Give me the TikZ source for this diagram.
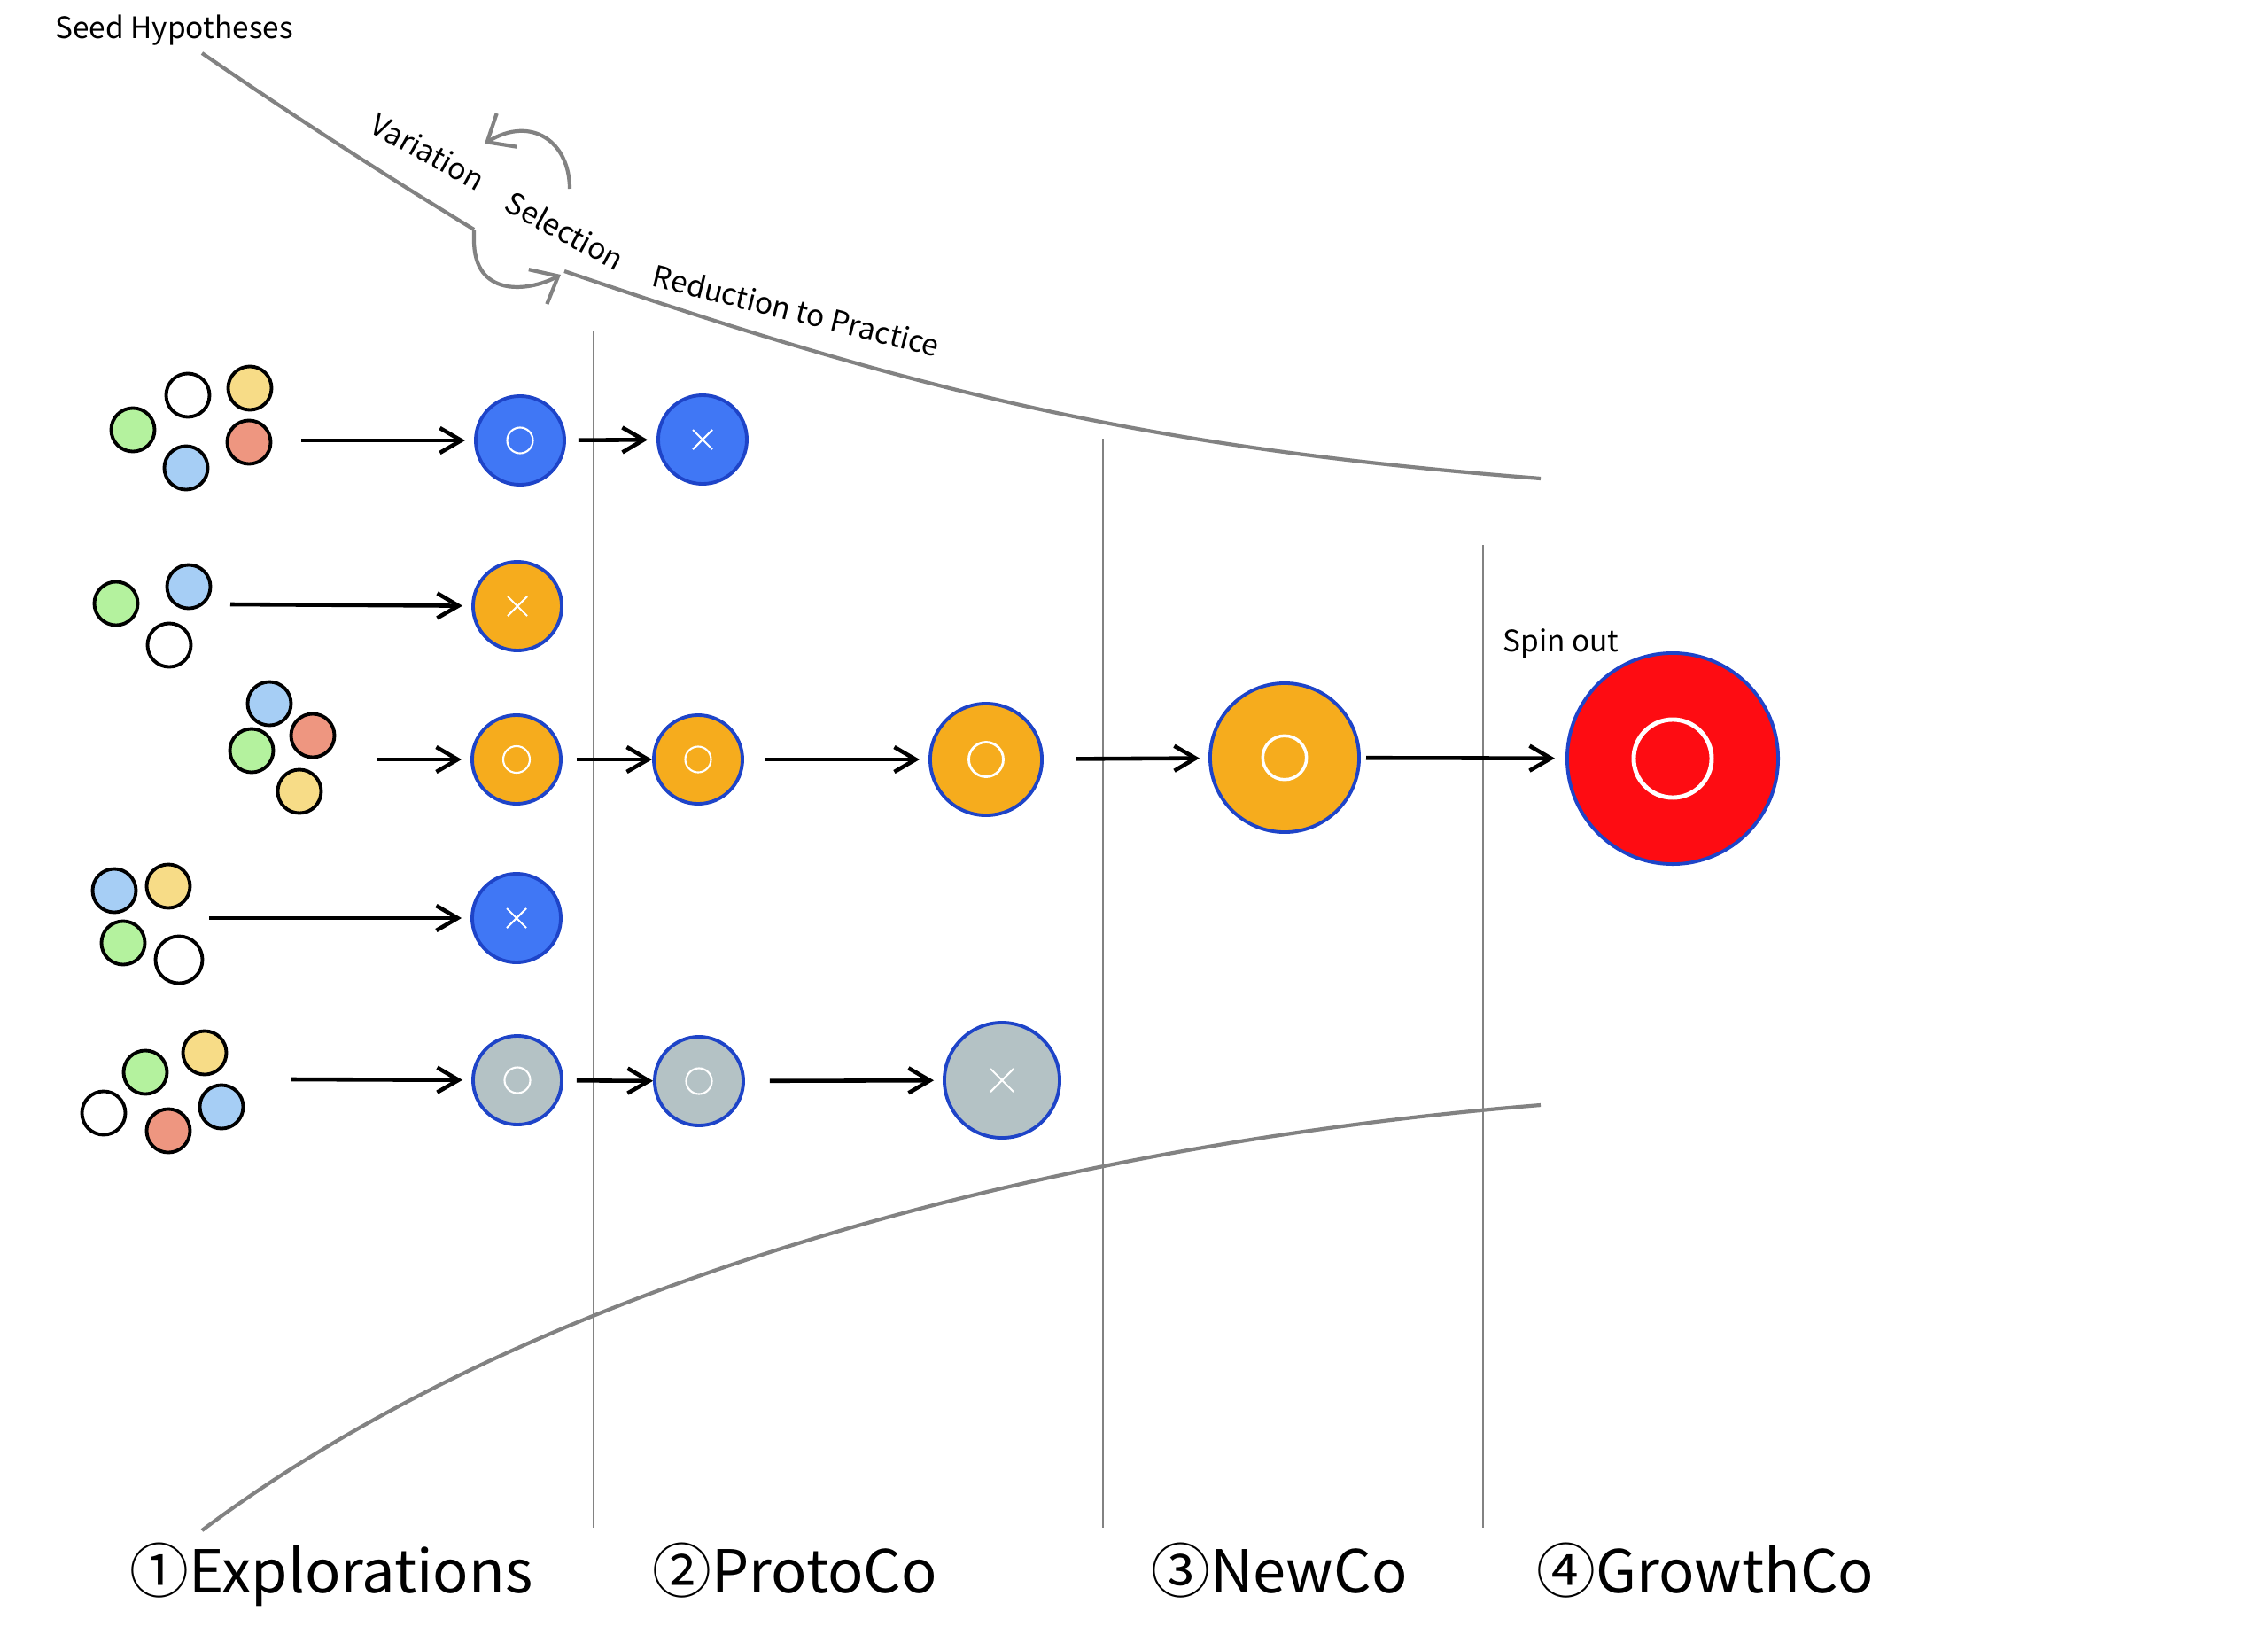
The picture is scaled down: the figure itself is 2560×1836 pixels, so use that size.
\documentclass[tikz,border=0pt]{standalone}
\usepackage{fontspec}
\setmainfont{Noto Sans CJK JP}
\usetikzlibrary{arrows.meta}

\definecolor{ventblue}{RGB}{64,119,245}
\definecolor{rimblue}{RGB}{30,68,200}
\definecolor{ventorange}{RGB}{246,172,29}
\definecolor{ventgray}{RGB}{180,194,197}
\definecolor{ventred}{RGB}{254,12,18}
\definecolor{seedgreen}{RGB}{180,242,158}
\definecolor{seedyellow}{RGB}{247,220,135}
\definecolor{seedred}{RGB}{238,150,128}
\definecolor{seedblue}{RGB}{166,206,245}
\definecolor{linegray}{RGB}{130,130,130}

\begin{document}
\begin{tikzpicture}[
  x=0.01cm, y=-0.01cm,
  seed/.style={circle, draw=black, line width=1.1pt, minimum size=4.9mm,
    inner sep=0pt},
  venture/.style={circle, draw=rimblue, line width=1.1pt, inner sep=0pt,
    minimum size=10mm},
  keep/.style 2 args={path picture={\draw[white, line width=#2]
      (path picture bounding box.center) circle[radius=#1];}},
  drop/.style={path picture={\draw[white, line width=0.6pt]
      ([shift={(-#1,-#1)}]path picture bounding box.center) --
      ([shift={(#1,#1)}]path picture bounding box.center)
      ([shift={(-#1,#1)}]path picture bounding box.center) --
      ([shift={(#1,-#1)}]path picture bounding box.center);}},
  flow/.style={-{Straight Barb[length=2.4mm,width=2.8mm]}, line width=1.3pt,
    shorten >=1mm},
  guide/.style={linegray, line width=1.2pt},
  stage/.style={linegray, line width=0.6pt},
  cyc/.style={guide, -{Straight Barb[length=2.6mm,width=4.4mm]}},
  lbl/.style={font=\fontsize{9.5}{11}\selectfont},
  phase/.style={font=\fontsize{19}{22}\selectfont, anchor=base west},
]
  \useasboundingbox (0,0) rectangle (2560,1836);
  % Funnel curves
  \node[lbl, anchor=base west] (seedtxt) at (50,44) {Seed Hypotheses};
  \coordinate (t0) at (228,60);
  \coordinate (t1) at (535,259);
  \coordinate (t2) at (637,306);
  \coordinate (t3) at (1739,540);
  \draw[guide] (t0) .. controls (330,130) and (430,195) .. (t1);
  \draw[guide] (t2) .. controls (1037,442) and (1289,505) .. (t3);
  \coordinate (b0) at (228,1727);
  \coordinate (b3) at (1739,1247);
  \draw[guide] (b0) .. controls (628,1427) and (1239,1287) .. (b3);
  % Variation / selection loop
  \coordinate (lp0) at (643,213);
  \coordinate (lp1) at (547,162);
  \coordinate (lp2) at (633,310);
  \draw[cyc] (t1) -- ++(0,12) .. controls (535,335) and (595,330) .. (lp2);
  \draw[cyc] (lp0) .. controls (643,160) and (600,130) .. (lp1);
  \node[lbl, rotate=-29] (var) at (483,171) {Variation};
  \node[lbl, rotate=-28.5] (sel) at (638,260) {Selection};
  \node[lbl, rotate=-14] (rtp) at (899,350) {Reduction to Practice};
  % Stage borders
  \draw[stage] (670,373) -- (670,1724);
  \draw[stage] (1245,495) -- (1245,1724);
  \draw[stage] (1674,615) -- (1674,1724);
  % Row 1
  \node[seed, fill=white] (a1) at (212,446) {};
  \node[seed, fill=seedyellow] (a2) at (282,438) {};
  \node[seed, fill=seedgreen] (a3) at (150,485) {};
  \node[seed, fill=seedred] (a4) at (281,499) {};
  \node[seed, fill=seedblue] (a5) at (210,528) {};
  \coordinate (a0) at (340,497);
  \node[venture, fill=ventblue, keep={1.45mm}{0.6pt}] (ra1) at (587,497) {};
  \node[venture, fill=ventblue, drop=1.1mm] (ra2) at (793,496) {};
  \draw[flow] (a0) -- (ra1);
  \draw[flow, shorten <=1.4mm] (ra1) -- (ra2);
  % Row 2
  \node[seed, fill=seedgreen] (b1) at (131,681) {};
  \node[seed, fill=seedblue] (b2) at (213,662) {};
  \node[seed, fill=white] (b3) at (191,728) {};
  \coordinate (b0) at (260,682);
  \node[venture, fill=ventorange, drop=1.1mm] (rb1) at (584,684) {};
  \draw[flow] (b0) -- (rb1);
  % Row 3
  \node[seed, fill=seedblue] (c1) at (304,794) {};
  \node[seed, fill=seedred] (c2) at (353,830) {};
  \node[seed, fill=seedgreen] (c3) at (284,847) {};
  \node[seed, fill=seedyellow] (c4) at (338,893) {};
  \coordinate (c0) at (425,857);
  \node[venture, fill=ventorange, keep={1.5mm}{0.6pt}] (rc1) at (583,857) {};
  \node[venture, fill=ventorange, keep={1.45mm}{0.6pt}] (rc2) at (788,857) {};
  \node[venture, fill=ventorange, minimum size=12.6mm,
    keep={1.95mm}{0.8pt}] (rc3) at (1113,857) {};
  \node[venture, fill=ventorange, minimum size=16.8mm,
    keep={2.47mm}{1pt}] (rc4) at (1450,855) {};
  \node[venture, fill=ventred, minimum size=23.8mm,
    keep={4.4mm}{1.4pt}] (rc5) at (1888,856) {};
  \node[lbl, anchor=base west] (spin) at (1684,735) {Spin out};
  \draw[flow] (c0) -- (rc1);
  \draw[flow, shorten <=1.6mm, shorten >=0mm] (rc1) -- (rc2);
  \draw[flow, shorten <=2.4mm] (rc2) -- (rc3);
  \draw[flow, shorten <=3.7mm] (rc3) -- (rc4);
  \draw[flow, shorten <=0.6mm, shorten >=1.2mm] (rc4) -- (rc5);
  % Row 4
  \node[seed, fill=seedblue] (d1) at (129,1005) {};
  \node[seed, fill=seedyellow] (d2) at (190,1000) {};
  \node[seed, fill=seedgreen] (d3) at (139,1064) {};
  \node[seed, fill=white, minimum size=5.3mm] (d4) at (202,1083) {};
  \coordinate (d0) at (236,1036);
  \node[venture, fill=ventblue, drop=1.1mm] (rd1) at (583,1036) {};
  \draw[flow] (d0) -- (rd1);
  % Row 5
  \node[seed, fill=seedyellow] (e1) at (231,1188) {};
  \node[seed, fill=seedgreen] (e2) at (164,1210) {};
  \node[seed, fill=white] (e3) at (117,1256) {};
  \node[seed, fill=seedblue] (e4) at (250,1249) {};
  \node[seed, fill=seedred] (e5) at (190,1276) {};
  \coordinate (e0) at (329,1218);
  \node[venture, fill=ventgray, keep={1.45mm}{0.6pt}] (re1) at (584,1219) {};
  \node[venture, fill=ventgray, keep={1.45mm}{0.6pt}] (re2) at (789,1220) {};
  \node[venture, fill=ventgray, minimum size=13mm, drop=1.3mm]
    (re3) at (1131,1219) {};
  \draw[flow] (e0) -- (re1);
  \draw[flow, shorten <=1.5mm, shorten >=0mm] (re1) -- (re2);
  \draw[flow, shorten <=2.8mm] (re2) -- (re3);
  % Phase labels
  \node[phase] (ph1) at (134,1797) {①Explorations};
  \node[phase] (ph2) at (724,1797) {②ProtoCo};
  \node[phase] (ph3) at (1287,1797) {③NewCo};
  \node[phase] (ph4) at (1722,1797) {④GrowthCo};
\end{tikzpicture}
\end{document}
